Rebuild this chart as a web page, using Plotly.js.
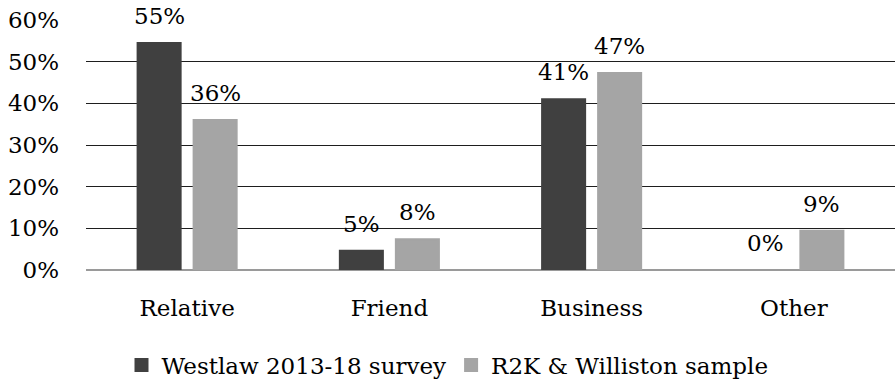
<!DOCTYPE html>
<html><head><meta charset="utf-8">
<script src="https://cdn.plot.ly/plotly-3.0.1.min.js"></script>
<style>html,body{margin:0;padding:0;background:#fff;}#chart{width:895px;height:383px;}</style>
</head><body><div id="chart"></div>
<script>
const categories = ["Relative", "Friend", "Business", "Other"];
const westlaw = [0.545, 0.046, 0.41, 0.0];
const westlawLabels = ["55%", "5%", "41%", "0%"];
const r2k = [0.36, 0.074, 0.473, 0.094];
const r2kLabels = ["36%", "8%", "47%", "9%"];
const yTicks = [0, 0.1, 0.2, 0.3, 0.4, 0.5, 0.6];
const yTickLabels = ["0%", "10%", "20%", "30%", "40%", "50%", "60%"];

const FONT = "DejaVu Serif, Liberation Serif, serif";
const FS = 23;
const DARK = "#404040", LIGHT = "#a5a5a5";
const traces = [
  {type: "bar", name: "Westlaw 2013-18 survey", x: categories, y: westlaw,
   marker: {color: DARK, line: {color: DARK, width: westlaw.map(v => v > 0 ? 2 : 0)}}, hoverinfo: "none"},
  {type: "bar", name: "R2K & Williston sample", x: categories, y: r2k,
   marker: {color: LIGHT, line: {color: LIGHT, width: r2k.map(v => v > 0 ? 2 : 0)}}, hoverinfo: "none"}
];
const annotations = [];
categories.forEach((c, i) => {
  annotations.push({x: c, y: westlaw[i], xref: "x", yref: "y", text: westlawLabels[i],
    showarrow: false, xshift: -28, yanchor: "bottom", yshift: 12,
    font: {family: FONT, size: FS, color: "#000"}});
  annotations.push({x: c, y: r2k[i], xref: "x", yref: "y", text: r2kLabels[i],
    showarrow: false, xshift: 28, yanchor: "bottom", yshift: 12,
    font: {family: FONT, size: FS, color: "#000"}});
});
const layout = {
  width: 895, height: 383,
  margin: {l: 86, r: 0, t: 20, b: 113},
  paper_bgcolor: "#fff", plot_bgcolor: "#fff",
  font: {family: FONT, size: FS, color: "#000"},
  barmode: "group", bargap: 0.446, bargroupgap: 0.232,
  showlegend: true,
  legend: {orientation: "h", xref: "container", x: 0.5, xanchor: "center",
           yref: "container", y: 0.047, yanchor: "middle",
           font: {family: FONT, size: FS, color: "#000"}, itemwidth: 30,
           traceorder: "normal"},
  xaxis: {type: "category", showgrid: false, zeroline: false, showline: false,
          ticks: "", tickfont: {family: FONT, size: FS, color: "#000"}, ticklabelstandoff: 22},
  yaxis: {range: [0, 0.6], tickvals: yTicks, ticktext: yTickLabels,
          showgrid: true, gridcolor: "#1e1e1e", gridwidth: 1,
          zeroline: true, zerolinecolor: "#9a9a9a", zerolinewidth: 2,
          showline: false, ticks: "", ticklabelstandoff: 26,
          tickfont: {family: FONT, size: FS, color: "#000"}, automargin: false},
  annotations: annotations
};
Plotly.newPlot("chart", traces, layout, {displayModeBar: false, staticPlot: true});
</script></body></html>
